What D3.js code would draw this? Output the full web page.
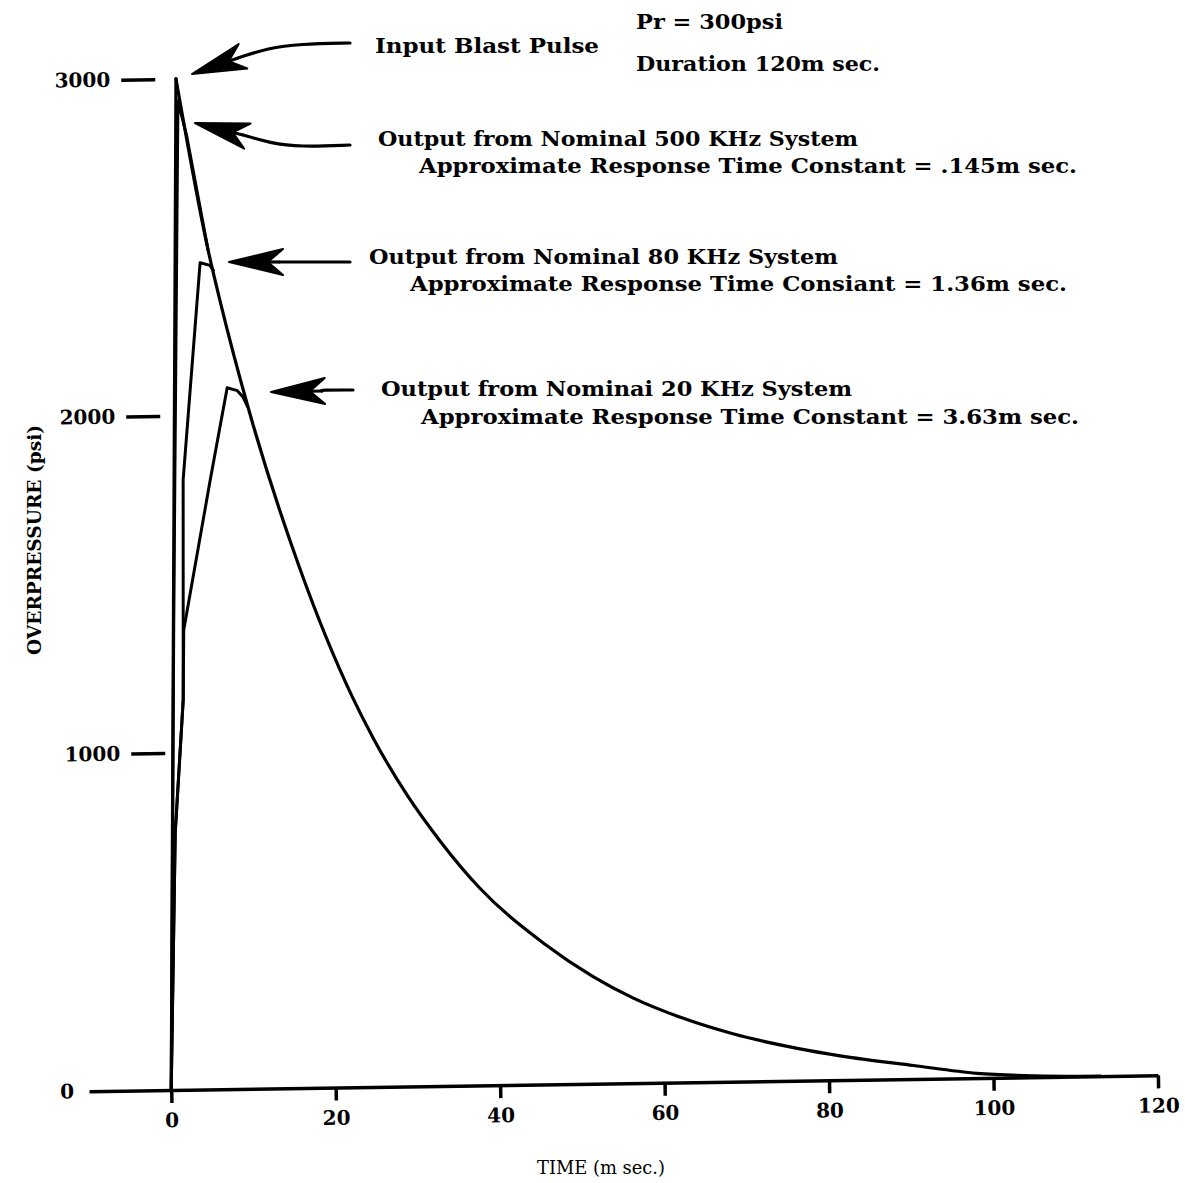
<!DOCTYPE html>
<html><head><meta charset="utf-8">
<script src="https://cdn.jsdelivr.net/npm/d3@7"></script>
<style>body{margin:0;background:#fff} svg{display:block;background:#fff}</style>
</head><body>
<svg id="chart" width="1185" height="1183"></svg>
<script>
// ---------------- DATA ----------------
const xTicks = [0, 20, 40, 60, 80, 100, 120];
const yTicks = [0, 1000, 2000, 3000];
const xDomain = [-10, 120];
const yDomain = [0, 3000];

// Input blast pulse (time in ms, overpressure in psi)
const inputTime = [0, 2.4, 6.0, 7.4, 10.6, 16.6, 22.7, 25.2, 29.2, 33.2, 37.9, 45.5, 51.5, 56.3, 62.4, 68.4, 76.2, 81.4, 90.3, 98.0, 105, 113];
const inputPsi  = [0, 3000, 2490, 2335, 2020, 1540, 1160, 1035, 865, 725, 585, 420, 318, 253, 190, 142, 96, 72, 40, 14, 4, 0];

// Output from nominal 500 KHz system
const out500Time = [0, 1.2, 2.6, 3.6, 6.0];
const out500Psi  = [0, 1450, 2935, 2830, 2490];

// Output from nominal 80 KHz system
const out80Time = [0, 0.95, 1.25, 2.16, 2.55, 5.0, 6.2, 6.6];
const out80Psi  = [0, 763, 860, 1157, 1810, 2453, 2445, 2430];

// Output from nominal 20 KHz system
const out20Time = [0, 0.95, 2.16, 2.35, 5.84, 8.07, 9.3, 10.0, 10.5];
const out20Psi  = [0, 763, 1157, 1364, 1808, 2081, 2072, 2052, 2025];

const xLabel = "TIME (m sec.)";
const yLabel = "OVERPRESSURE (psi)";
const noteLines = ["Pr = 300psi", "Duration 120m sec."];
const seriesLabels = [
  ["Input Blast Pulse"],
  ["Output from Nominal 500 KHz System", "Approximate Response Time Constant = .145m sec."],
  ["Output from Nominal 80 KHz System", "Approximate Response Time Consiant = 1.36m sec."],
  ["Output from Nominai 20 KHz System", "Approximate Response Time Constant = 3.63m sec."]
];

// ---------------- LAYOUT ----------------
const W = 1185, H = 1183;
const plot = {left: 89, right: 1158, bottom: 1090, top: 79};
const tilt = -0.85;   // the scanned page is slightly rotated
const serif = "'DejaVu Serif', 'Liberation Serif', serif";

// text layout: [x, baseline, width] per line
const noteLayout = [[636, 29, 147], [636, 71, 244]];
const labelLayout = [
  [[375, 53, 224]],
  [[378, 146, 480], [419, 173, 658]],
  [[369, 264, 469], [410, 291, 657]],
  [[381, 396, 471], [421, 424, 658]]
];
// arrows: shaft points (tail -> head base) and tip
const arrowLayout = [
  {shaft: [[350, 43], [300, 44], [268, 48], [238, 58]], tip: [192, 74]},
  {shaft: [[350, 145], [300, 147], [270, 143], [243, 135]], tip: [195, 123]},
  {shaft: [[350, 262], [300, 262], [280, 262]], tip: [229, 262]},
  {shaft: [[353, 390], [320, 390], [322, 391]], tip: [271, 392]}
];

// ---------------- DRAW ----------------
const svg = d3.select("#chart");
svg.append("rect").attr("width", W).attr("height", H).attr("fill", "#fff");

const x = d3.scaleLinear().domain(xDomain).range([plot.left, plot.right]);
const y = d3.scaleLinear().domain(yDomain).range([plot.bottom, plot.top]);

const g = svg.append("g")
  .attr("transform", `rotate(${tilt},${x(0)},${y(0)})`);

// x axis
const xAxis = g.append("g")
  .attr("transform", `translate(0,${y(0)})`)
  .call(d3.axisBottom(x).tickValues(xTicks).tickSizeInner(13).tickSizeOuter(0).tickPadding(10).tickFormat(d3.format("d")));
xAxis.select(".domain").attr("stroke", "#000").attr("stroke-width", 3.5);
xAxis.selectAll(".tick line").attr("stroke", "#000").attr("stroke-width", 3.5);
xAxis.selectAll(".tick text")
  .attr("font-family", serif).attr("font-weight", "bold").attr("font-size", 20).attr("fill", "#000");

// y axis (dashes only, no axis line)
const yAxis = g.append("g")
  .attr("transform", `translate(${x(0) - 1},0)`)
  .call(d3.axisLeft(y).tickValues(yTicks).tickSizeInner(34).tickSizeOuter(0).tickPadding(11).tickFormat(d3.format("d")));
yAxis.select(".domain").remove();
yAxis.selectAll(".tick line").attr("stroke", "#000").attr("stroke-width", 3.5);
yAxis.selectAll(".tick text")
  .attr("font-family", serif).attr("font-weight", "bold").attr("font-size", 20).attr("fill", "#000");
yAxis.selectAll(".tick").filter(d => d === 0).select("line").remove();
yAxis.selectAll(".tick").filter(d => d === 0).select("text")
  .attr("x", x(xDomain[0]) - 15 - (x(0) - 1));

// curves
const toPts = (t, p) => t.map((v, i) => [v, p[i]]);
const linLine = d3.line().x(d => x(d[0])).y(d => y(d[1])).curve(d3.curveLinear);
const smoothLine = d3.line().x(d => x(d[0])).y(d => y(d[1])).curve(d3.curveMonotoneX);

const inputPts = toPts(inputTime, inputPsi);
const peak = d3.maxIndex(inputPsi);
const curveStyle = sel => sel.attr("fill", "none").attr("stroke", "#000")
  .attr("stroke-width", 3.2).attr("stroke-linejoin", "round").attr("stroke-linecap", "round");

g.append("path").datum(inputPts.slice(0, peak + 1)).attr("d", linLine).call(curveStyle);
g.append("path").datum(inputPts.slice(peak)).attr("d", smoothLine).call(curveStyle);

[[out500Time, out500Psi], [out80Time, out80Psi], [out20Time, out20Psi]].forEach(([t, p]) => {
  g.append("path").datum(toPts(t, p)).attr("d", linLine).call(curveStyle).attr("stroke-width", 3);
});

// annotations (text)
const ann = svg.append("g").attr("font-family", serif).attr("font-weight", "bold").attr("fill", "#000");
noteLines.forEach((s, i) => {
  const [tx, ty, tw] = noteLayout[i];
  ann.append("text").attr("x", tx).attr("y", ty).attr("font-size", 21)
    .attr("textLength", tw).attr("lengthAdjust", "spacingAndGlyphs").text(s);
});
seriesLabels.forEach((lines, k) => {
  lines.forEach((s, j) => {
    const [tx, ty, tw] = labelLayout[k][j];
    ann.append("text").attr("x", tx).attr("y", ty).attr("font-size", 21)
      .attr("textLength", tw).attr("lengthAdjust", "spacingAndGlyphs").text(s);
  });
});

// axis titles
ann.append("text").attr("x", 537).attr("y", 1174).attr("font-size", 19)
  .attr("font-weight", "normal")
  .attr("textLength", 128).attr("lengthAdjust", "spacingAndGlyphs").text(xLabel);
ann.append("text").attr("transform", "translate(41,540) rotate(-90)").attr("text-anchor", "middle")
  .attr("font-size", 19)
  .attr("textLength", 230).attr("lengthAdjust", "spacingAndGlyphs").text(yLabel);

// arrows
const shaftLine = d3.line().curve(d3.curveBasis);
arrowLayout.forEach(a => {
  const base = a.shaft[a.shaft.length - 1];
  svg.append("path").attr("d", shaftLine(a.shaft)).attr("fill", "none")
    .attr("stroke", "#000").attr("stroke-width", 3.2).attr("stroke-linecap", "round");
  const dx = a.tip[0] - base[0], dy = a.tip[1] - base[1];
  const len = Math.hypot(dx, dy), ux = dx / len, uy = dy / len, px = -uy, py = ux;
  const L = 54, w = 13;
  const bx = a.tip[0] - ux * L, by = a.tip[1] - uy * L;
  const nx = a.tip[0] - ux * L * 0.72, ny = a.tip[1] - uy * L * 0.72;
  const pts = [
    a.tip,
    [bx + px * w, by + py * w],
    [nx, ny],
    [bx - px * w, by - py * w]
  ];
  svg.append("path").attr("d", "M" + pts.map(p => p.join(",")).join("L") + "Z")
    .attr("fill", "#000").attr("stroke", "#000").attr("stroke-width", 2).attr("stroke-linejoin", "round");
  svg.append("line").attr("x1", base[0]).attr("y1", base[1]).attr("x2", nx).attr("y2", ny)
    .attr("stroke", "#000").attr("stroke-width", 3.2);
});
</script>
</body></html>
